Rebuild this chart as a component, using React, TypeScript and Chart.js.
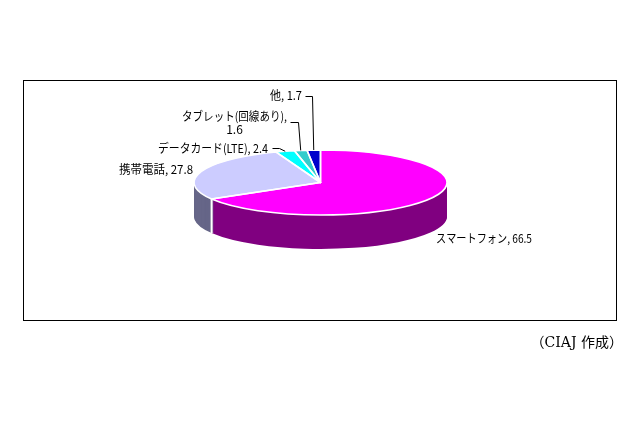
import React, { useEffect, useRef } from "react";
import { Chart, registerables } from "chart.js";

Chart.register(...registerables);

const categories = ["スマートフォン", "携帯電話", "データカード(LTE)", "タブレット(回線あり)", "他"];
const shares = [66.5, 27.8, 2.4, 1.6, 1.7];
const topColors = ["#FF00FF", "#CCCCFF", "#00FFFF", "#33CCCC", "#0000CC"];
const sideColors = ["#800080", "#666688", "#008080", "#1A6666", "#000066"];
const sourceNote = "（CIAJ 作成）";

const WIDTH = 640;
const HEIGHT = 426;
const SQUASH = 32.5 / 126.5;
const DEPTH = 34;
const FONT = '12px "Noto Sans CJK JP", sans-serif';

// Label layout: text anchor, fitted width, and optional leader bend
const labelLayout: any[] = [
  { x: 436, y: 238, width: 96 },
  { x: 119, y: 169, width: 74 },
  { x: 158, y: 148, width: 110, leaderFrom: [272, 148], leaderVia: [279, 148] },
  { x: 182, y: 116, width: 105, second: 129, leaderFrom: [290, 122], leaderVia: [298, 122] },
  { x: 270, y: 95, width: 32, leaderFrom: [305, 96], leaderVia: [312, 96] },
];

const pie3d = {
  id: "pie3d",
  beforeDraw(chart: any) {
    const { ctx } = chart;
    ctx.save();
    ctx.fillStyle = "#FFFFFF";
    ctx.fillRect(0, 0, WIDTH, HEIGHT);
    ctx.strokeStyle = "#000000";
    ctx.lineWidth = 1;
    ctx.strokeRect(23.5, 80.5, 593, 240);
    ctx.restore();
  },
  beforeDatasetsDraw(chart: any) {
    const { ctx } = chart;
    const arcs = chart.getDatasetMeta(0).data;
    const first = arcs[0];
    const cx = first.x;
    const cy = first.y;
    const rx = first.outerRadius;
    const ry = rx * SQUASH;

    const paint = (dy: number, colors?: string[]) => {
      ctx.save();
      ctx.translate(cx, cy + dy);
      ctx.scale(1, SQUASH);
      ctx.translate(-cx, -cy);
      arcs.forEach((arc: any, i: number) => {
        const saved = arc.options;
        const opts = Object.create(saved);
        opts.backgroundColor = colors ? colors[i] : saved.backgroundColor;
        opts.borderWidth = 0;
        arc.options = opts;
        arc.draw(ctx);
        arc.options = saved;
      });
      ctx.restore();
    };

    for (let d = DEPTH; d >= 1; d--) paint(d, sideColors);

    // white seam down the side wall where front slices meet
    ctx.save();
    ctx.strokeStyle = "#FFFFFF";
    ctx.lineWidth = 2;
    const seam = arcs[0].endAngle;
    const sx = cx + rx * Math.cos(seam);
    const sy = cy + ry * Math.sin(seam);
    ctx.beginPath();
    ctx.moveTo(sx, sy);
    ctx.lineTo(sx, sy + DEPTH);
    ctx.stroke();
    ctx.restore();

    paint(0);

    // even-width white outline on the top face
    ctx.save();
    ctx.strokeStyle = "#FFFFFF";
    ctx.lineWidth = 1.6;
    ctx.lineJoin = "round";
    arcs.forEach((arc: any) => {
      ctx.beginPath();
      ctx.moveTo(cx, cy);
      ctx.ellipse(cx, cy, rx, ry, 0, arc.startAngle, arc.endAngle);
      ctx.closePath();
      ctx.stroke();
    });
    ctx.restore();
    return false;
  },
  afterDraw(chart: any) {
    const { ctx } = chart;
    const arcs = chart.getDatasetMeta(0).data;
    const cx = arcs[0].x;
    const cy = arcs[0].y;
    const rx = arcs[0].outerRadius;
    const ry = rx * SQUASH;
    ctx.save();
    ctx.fillStyle = "#000000";
    ctx.strokeStyle = "#000000";
    ctx.lineWidth = 1;
    ctx.font = FONT;
    ctx.textBaseline = "middle";
    categories.forEach((name, i) => {
      const spot = labelLayout[i];
      ctx.textAlign = "left";
      if (spot.second) {
        ctx.fillText(name + ",", spot.x, spot.y, spot.width);
        ctx.textAlign = "center";
        ctx.fillText(String(shares[i]), spot.x + spot.width / 2, spot.second);
      } else {
        ctx.fillText(`${name}, ${shares[i]}`, spot.x, spot.y, spot.width);
      }
      if (spot.leaderFrom) {
        const mid = (arcs[i].startAngle + arcs[i].endAngle) / 2;
        const ex = cx + rx * Math.cos(mid);
        const ey = cy + ry * Math.sin(mid);
        ctx.beginPath();
        ctx.moveTo(spot.leaderFrom[0] + 0.5, spot.leaderFrom[1] + 0.5);
        ctx.lineTo(spot.leaderVia[0] + 0.5, spot.leaderVia[1] + 0.5);
        ctx.lineTo(ex, ey);
        ctx.stroke();
      }
    });
    ctx.font = '14px "DejaVu Serif", "Noto Sans CJK JP", serif';
    ctx.textAlign = "right";
    ctx.fillText(sourceNote, 623, 343);
    ctx.restore();
  },
};

export default function App() {
  const ref = useRef<HTMLCanvasElement>(null);
  useEffect(() => {
    if (!ref.current) return;
    const chart = new Chart(ref.current, {
      type: "pie",
      plugins: [pie3d],
      data: {
        labels: categories,
        datasets: [{ data: shares, backgroundColor: topColors, borderWidth: 0 }],
      },
      options: {
        animation: false,
        responsive: false,
        devicePixelRatio: 1,
        events: [],
        layout: { padding: { left: 194, right: 193, top: 56, bottom: 117 } },
        plugins: { legend: { display: false }, tooltip: { enabled: false } },
      },
    } as any);
    return () => chart.destroy();
  }, []);
  return (
    <canvas
      ref={ref}
      width={WIDTH}
      height={HEIGHT}
      style={{ position: "fixed", left: 0, top: 0, width: WIDTH, height: HEIGHT }}
    />
  );
}
